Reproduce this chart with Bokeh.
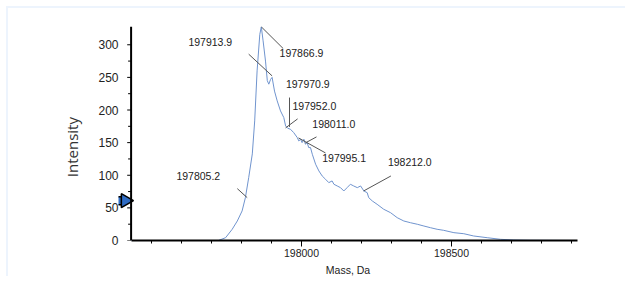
import math
from bokeh.plotting import figure
from bokeh.models import FixedTicker, NumeralTickFormatter, ColumnDataSource, Span
from bokeh.core.properties import value
from bokeh.embed import file_html
from bokeh.resources import INLINE

# Spectrum trace (mass in Da, intensity)
mass = [197432, 197723, 197747, 197769, 197786, 197802, 197813, 197824, 197836, 197844,
        197852, 197861, 197866, 197872, 197880, 197886, 197891, 197897, 197902, 197910,
        197919, 197930, 197941, 197947, 197954, 197963, 197974, 197986, 197991, 197997,
        198002, 198008, 198013, 198019, 198024, 198030, 198036, 198047, 198058, 198069,
        198080, 198091, 198102, 198108, 198119, 198130, 198141, 198152, 198163, 198174,
        198186, 198197, 198208, 198219, 198224, 198236, 198252, 198274, 198297, 198319,
        198341, 198363, 198386, 198408, 198430, 198452, 198474, 198508, 198541, 198574,
        198619, 198663, 198708, 198763, 198919]
intensity = [0, 0, 4.3, 17.2, 29.9, 45.3, 65.7, 96.3, 132.7, 183.3,
             260, 316, 327.5, 306, 275, 245, 239.6, 247, 250, 229,
             214, 198.6, 188.4, 175.6, 172, 170.6, 165.4, 157.7, 152.6, 155.2,
             150, 155.2, 147.6, 150, 142.4, 142.4, 132.2, 116.9, 106.6, 98.9,
             93.9, 88.7, 91.3, 86.2, 83.6, 81, 75.9, 81, 86.2, 83.6,
             81, 83.6, 75.9, 73.3, 65.7, 60.6, 55.5, 47.9, 42.6, 35,
             29.9, 27.3, 24.9, 22.2, 19.6, 17.2, 15.6, 12, 10.4, 6.9,
             4.3, 1.8, 0.8, 0.3, 0]

# Peak labels
peak_text = ["197913.9", "197866.9", "197970.9", "197952.0",
             "198011.0", "197995.1", "198212.0", "197805.2"]
label_x = [197623, 197927, 197948, 197970, 198036, 198069, 198288, 197583]
label_y = [304.5, 287.6, 240.1, 206.3, 178.7, 126.6, 120.4, 98.9]

# Leader lines
lead_x0 = [197824, 197866, 197960, 197947, 198013, 197990, 198207, 197786]
lead_y0 = [285.6, 327.5, 219.1, 172.6, 149.6, 157.2, 75.9, 79.5]
lead_x1 = [197902, 197939, 197960, 197987, 198050, 198080, 198298, 197819]
lead_y1 = [252.3, 294.2, 174.1, 186.4, 158.8, 134.2, 98.9, 65.7]

# Axis ticks
x_start, x_end = 197432, 198920
y_end = 328
x_major = [198000, 198500]
x_minor = [197500, 197600, 197700, 197800, 197900, 198100, 198200, 198300, 198400,
           198600, 198700, 198800, 198900]
y_major = [0, 50, 100, 150, 200, 250, 300]
y_minor = [25, 75, 125, 175, 225, 275]

# marker arrow on the y axis (tail, head)
arrow_tail_x, arrow_head_x, arrow_y = [197397], [197413], [61]

p = figure(width=619, height=270, output_backend="svg", toolbar_location=None,
           x_range=(197390, x_end), y_range=(0, y_end),
           min_border_left=110, min_border_right=50, min_border_top=18, min_border_bottom=38)
p.styles = {"margin-left": "6px", "margin-top": "6px",
            "border-top": "2px solid #edf4fd", "border-left": "2px solid #edf4fd"}
p.outline_line_color = None
p.grid.visible = False

# block arrow marker
p.rect(x=arrow_tail_x, y=arrow_y, width=7, height=8, width_units="screen", height_units="screen",
       fill_color="#2f6cc4", line_color="black", line_width=1.5)
p.scatter(x=arrow_head_x, y=arrow_y, marker="triangle", size=14, angle=-math.pi / 2,
          fill_color="#2f6cc4", line_color="black", line_width=1.5)

# y axis line and ticks drawn at the start of the mass range
maj_len, min_len = 13, 10  # tick lengths in Da
p.add_layout(Span(location=x_start, dimension="height", line_color="black", line_width=2))
p.segment(x0=[x_start - maj_len] * len(y_major), y0=y_major,
          x1=[x_start] * len(y_major), y1=y_major, line_color="black", line_width=1)
p.segment(x0=[x_start - min_len] * len(y_minor), y0=y_minor,
          x1=[x_start] * len(y_minor), y1=y_minor, line_color="black", line_width=1)

p.line(mass, intensity, line_color="#7094ce", line_width=1)

p.segment(x0=lead_x0, y0=lead_y0, x1=lead_x1, y1=lead_y1, line_color="#555555", line_width=1)

src = ColumnDataSource(dict(x=label_x, y=label_y, t=peak_text))
p.text(x="x", y="y", text="t", source=src, text_font=value("Liberation Sans"),
       text_font_size="10.5px", text_color="#222222", text_align="left", text_baseline="middle")

for ax in (p.xaxis[0], p.yaxis[0]):
    ax.axis_line_color = "black"
    ax.axis_line_width = 2
    ax.major_tick_line_color = "black"
    ax.minor_tick_line_color = "black"
    ax.major_tick_in = 0
    ax.minor_tick_in = 0
    ax.major_label_text_font = "Liberation Sans"
    ax.major_label_text_color = "#222222"

p.xaxis.bounds = (x_start, x_end)
p.xaxis.ticker = FixedTicker(ticks=x_major, minor_ticks=x_minor)
p.xaxis.formatter = NumeralTickFormatter(format="0")
p.xaxis.major_tick_out = 6
p.xaxis.minor_tick_out = 3
p.xaxis.major_label_text_font_size = "10.5px"
p.xaxis.major_label_standoff = 2
p.xaxis.axis_label = "Mass, Da"
p.xaxis.axis_label_text_font = "Liberation Sans"
p.xaxis.axis_label_text_font_style = "normal"
p.xaxis.axis_label_text_font_size = "10.5px"
p.xaxis.axis_label_text_color = "#222222"
p.xaxis.axis_label_standoff = 4

p.yaxis.ticker = FixedTicker(ticks=y_major, minor_ticks=y_minor)
p.yaxis.axis_line_color = None
p.yaxis.major_tick_line_color = None
p.yaxis.minor_tick_line_color = None
p.yaxis.major_tick_out = 0
p.yaxis.minor_tick_out = 0
p.yaxis.major_label_text_font_size = "12px"
p.yaxis.major_label_standoff = 0
p.yaxis.axis_label = "Intensity" + "\u00a0" * 7
p.yaxis.axis_label_text_font = "Open Sans"
p.yaxis.axis_label_text_font_style = "normal"
p.yaxis.axis_label_text_font_size = "15px"
p.yaxis.axis_label_text_color = "#333333"
p.yaxis.axis_label_standoff = 13

open("out.html", "w").write(file_html(p, INLINE))
